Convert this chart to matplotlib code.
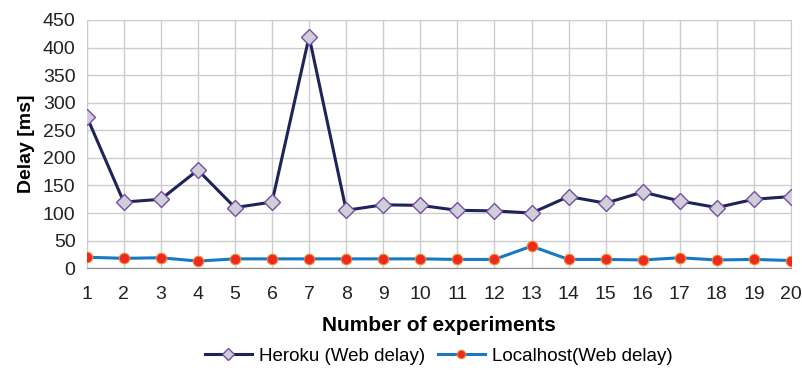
import matplotlib
matplotlib.use("Agg")
import matplotlib.pyplot as plt

plt.rcParams['font.family'] = ['Liberation Sans', 'DejaVu Sans']

experiments = list(range(1, 21))
heroku = [275, 120, 125, 178, 110, 120, 420, 105, 115, 114,
          105, 104, 100, 130, 118, 138, 122, 110, 125, 130]
localhost = [20, 18, 19, 13, 17, 17, 17, 17, 17, 17,
             16, 16, 40, 16, 16, 15, 19, 15, 16, 14]

fig = plt.figure(figsize=(8.03, 3.7), dpi=100)
ax = fig.add_axes([0.108, 0.275, 0.877, 0.671])

ax.plot(experiments, heroku, color='#1c2458', lw=2.2, marker='D', ms=8,
        mfc='#cfcfd8', mec='#7a4aa8', mew=1.0, label='Heroku (Web delay)', zorder=3)
ax.plot(experiments, localhost, color='#1878c0', lw=2.2, marker='o', ms=7.5,
        mfc='#ee2a1e', mec='#f08a30', mew=0.8, label='Localhost(Web delay)', zorder=3)

ax.set_xlim(1, 20)
ax.set_ylim(0, 450)
ax.set_xticks(experiments)
ax.set_yticks(range(0, 451, 50))
ax.grid(True, color='#cccccc', lw=1.0)
ax.set_axisbelow(True)
for s in ['top', 'right', 'left']:
    ax.spines[s].set_color('#cccccc')
ax.spines['bottom'].set_color('#888888')
ax.tick_params(length=0, labelsize=14, colors='#222222')
ax.tick_params(axis='x', pad=13)
ax.tick_params(axis='y', pad=8)

ax.set_xlabel('Number of experiments', fontsize=15, fontweight='bold', labelpad=9)
ax.set_ylabel('Delay [ms]', fontsize=14, fontweight='bold', labelpad=6)

ax.legend(loc='center', bbox_to_anchor=(0.5, -0.355), ncol=2, frameon=False,
          fontsize=13.5, handlelength=2.5, columnspacing=0.65, handletextpad=0.4,
          markerscale=0.8)

fig.savefig('out.png', dpi=100)
